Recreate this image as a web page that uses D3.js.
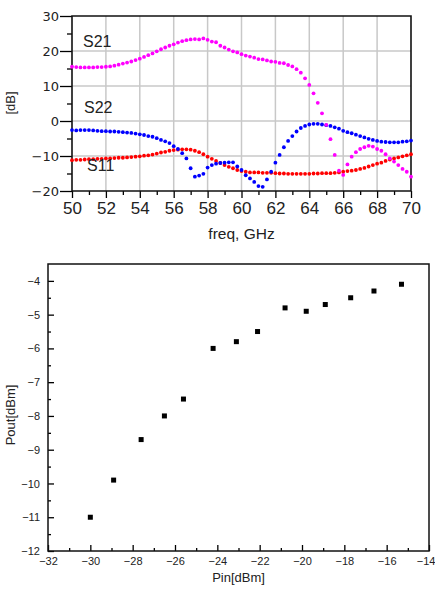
<!DOCTYPE html>
<html>
<head>
<meta charset="utf-8">
<script src="https://cdn.jsdelivr.net/npm/d3@7"></script>
<style>body { margin: 0; background: #fff; }</style>
</head>
<body>
<svg></svg>
<script>
const [svgWidth, svgHeight] = [435, 591];

// S-parameter sweep, one sample every 0.25 GHz from 50 to 70 GHz
const freq = d3.range(0, 81).map(i => 50 + i * 0.25);
const s21 = [15.5, 15.4, 15.3, 15.3, 15.3, 15.3, 15.4, 15.4, 15.5, 15.6,
  15.8, 16.1, 16.4, 16.7, 17.0, 17.4, 17.8, 18.3, 18.8, 19.3,
  19.9, 20.5, 21.0, 21.5, 21.9, 22.4, 22.8, 23.1, 23.3, 23.4,
  23.3, 23.6, 23.2, 22.7, 22.5, 21.5, 21.0, 20.4, 19.9, 19.6,
  19.1, 18.7, 18.4, 18.1, 17.7, 17.6, 17.3, 17.0, 16.9, 16.6,
  16.5, 16.0, 15.6, 14.8, 13.8, 12.2, 10.3, 7.9, 5.2, 2.2,
  -1.1, -5.2, -9.7, -14.2, -15.4, -12.4, -10.2, -8.9, -8.0, -7.5,
  -7.1, -7.3, -8.0, -8.5, -9.5, -10.7, -11.6, -12.6, -13.7, -14.5,
  -15.9];
const s22 = [-2.6, -2.7, -2.6, -2.6, -2.6, -2.7, -2.8, -2.9, -2.9, -3.0,
  -3.0, -3.1, -3.2, -3.3, -3.4, -3.6, -3.8, -4.0, -4.3, -4.5,
  -4.9, -5.4, -5.8, -6.3, -7.2, -8.0, -9.2, -10.7, -13.5, -15.9,
  -15.6, -15.1, -13.3, -12.6, -12.2, -12.0, -11.9, -11.8, -11.8, -13.0,
  -14.0, -15.5, -16.4, -17.4, -18.6, -18.8, -16.7, -14.5, -11.9, -9.7,
  -7.5, -5.7, -4.3, -3.0, -2.0, -1.4, -1.0, -0.8, -0.8, -1.0,
  -1.2, -1.4, -1.8, -2.2, -2.8, -3.2, -3.5, -3.9, -4.3, -4.7,
  -5.1, -5.4, -5.7, -5.9, -6.0, -6.1, -6.1, -6.1, -5.9, -5.8,
  -5.6];
const s11 = [-11.2, -11.1, -11.1, -11.0, -10.9, -10.9, -10.8, -10.8, -10.7, -10.7,
  -10.6, -10.5, -10.5, -10.4, -10.3, -10.2, -10.1, -9.9, -9.8, -9.6,
  -9.3, -9.0, -8.8, -8.5, -8.3, -8.2, -8.1, -8.1, -8.2, -8.5,
  -8.9, -9.5, -10.2, -10.8, -11.4, -12.0, -12.6, -13.1, -13.5, -14.0,
  -14.3, -14.5, -14.7, -14.7, -14.7, -14.8, -14.8, -14.8, -14.9, -15.0,
  -15.0, -15.1, -15.1, -15.1, -15.1, -15.1, -15.1, -15.0, -15.0, -14.9,
  -14.9, -14.9, -14.8, -14.7, -14.5, -14.3, -14.2, -14.0, -13.7, -13.4,
  -13.0, -12.6, -12.2, -11.9, -11.4, -11.0, -10.7, -10.4, -10.1, -9.8,
  -9.5];
const sNames = ['S11', 'S22', 'S21'];
const sColors = ['#ff0000', '#0000ff', '#ff00ff'];
const freqTicks = [50, 52, 54, 56, 58, 60, 62, 64, 66, 68, 70];
const dbTicks = [-20, -10, 0, 10, 20, 30];

// power sweep
const pin = [-30.0, -28.9, -27.6, -26.5, -25.6, -24.2, -23.1, -22.1, -20.8, -19.8, -18.9, -17.7, -16.6, -15.3];
const pout = [-11.0, -9.9, -8.7, -8.0, -7.5, -6.0, -5.8, -5.5, -4.8, -4.9, -4.7, -4.5, -4.3, -4.1];
const pinTicks = [-32, -30, -28, -26, -24, -22, -20, -18, -16, -14];
const poutTicks = [-12, -11, -10, -9, -8, -7, -6, -5, -4];

const svg = d3.select('svg')
  .attr('width', svgWidth)
  .attr('height', svgHeight);

// ---------- top chart ----------
const sBox = { left: 72, right: 411, top: 16, bottom: 191 };
const xS = d3.scaleLinear().domain([50, 70]).range([sBox.left, sBox.right]);
const yS = d3.scaleLinear().domain([-20, 30]).range([sBox.bottom, sBox.top]);
const g1 = svg.append('g');

g1.append('g')
  .selectAll('line')
  .data(freqTicks.slice(1, -1))
  .join('line')
  .attr('x1', d => xS(d)).attr('x2', d => xS(d))
  .attr('y1', sBox.top).attr('y2', sBox.bottom)
  .attr('stroke', '#c8c8c8').attr('stroke-width', 1.5);
g1.append('g')
  .selectAll('line')
  .data(dbTicks.slice(1, -1))
  .join('line')
  .attr('x1', sBox.left).attr('x2', sBox.right)
  .attr('y1', d => yS(d)).attr('y2', d => yS(d))
  .attr('stroke', '#c8c8c8').attr('stroke-width', 1.5);

const styleAxis = (sel, font, size) => {
  sel.select('.domain').remove();
  sel.attr('font-family', font).attr('font-size', size);
  sel.selectAll('line').attr('stroke', '#000').attr('stroke-width', 1.3);
  sel.selectAll('text').attr('fill', '#222');
};

g1.append('g')
  .attr('transform', `translate(${sBox.left},0)`)
  .call(d3.axisLeft(yS).tickValues(dbTicks).tickSize(12).tickPadding(1))
  .call(styleAxis, '"DejaVu Sans", sans-serif', 13);
g1.append('g')
  .attr('transform', `translate(${sBox.left},0)`)
  .call(d3.axisLeft(yS).tickValues([-15, -5, 5, 15, 25]).tickSize(5).tickFormat(''))
  .call(styleAxis, 'sans-serif', 10);
g1.append('g')
  .attr('transform', `translate(0,${sBox.bottom})`)
  .call(d3.axisBottom(xS).tickValues(freqTicks).tickSize(7).tickPadding(4))
  .call(styleAxis, '"Liberation Sans", Arial, sans-serif', 17);
g1.append('g')
  .attr('transform', `translate(0,${sBox.bottom})`)
  .call(d3.axisBottom(xS).tickValues(d3.range(51, 70, 2)).tickSize(4).tickFormat(''))
  .call(styleAxis, 'sans-serif', 10);

g1.append('path')
  .attr('d', `M${sBox.left},${sBox.bottom}V${sBox.top}H${sBox.right}V${sBox.bottom}H${sBox.left}`)
  .attr('fill', 'none').attr('stroke', '#111').attr('stroke-width', 1.6);

[s11, s22, s21].forEach((vals, k) => {
  g1.append('g')
    .selectAll('circle')
    .data(vals.map((v, i) => [freq[i], v]))
    .join('circle')
    .attr('cx', d => xS(d[0]))
    .attr('cy', d => yS(d[1]))
    .attr('r', 1.9)
    .attr('fill', sColors[k]);
});

const sLabelPos = [[87, 171], [84, 113], [83, 47]];
g1.append('g')
  .selectAll('text')
  .data(sNames)
  .join('text')
  .attr('x', (d, i) => sLabelPos[i][0])
  .attr('y', (d, i) => sLabelPos[i][1])
  .attr('font-family', '"Liberation Sans", Arial, sans-serif')
  .attr('font-size', 16)
  .attr('fill', '#222')
  .text(d => d);

g1.append('text')
  .attr('x', (sBox.left + sBox.right) / 2)
  .attr('y', 239)
  .attr('text-anchor', 'middle')
  .attr('font-family', '"Liberation Sans", Arial, sans-serif')
  .attr('font-size', 15.5)
  .attr('fill', '#222')
  .text('freq, GHz');
g1.append('text')
  .attr('transform', 'translate(15,103) rotate(-90)')
  .attr('text-anchor', 'middle')
  .attr('font-family', '"Liberation Sans", Arial, sans-serif')
  .attr('font-size', 13)
  .attr('fill', '#222')
  .text('[dB]');

// ---------- bottom chart ----------
const pBox = { left: 48, right: 429, top: 264, bottom: 551 };
const xP = d3.scaleLinear().domain([-32, -14]).range([pBox.left, pBox.right]);
const yP = d3.scaleLinear().domain([-12, -3.5]).range([pBox.bottom, pBox.top]);
const g2 = svg.append('g');

g2.append('g')
  .attr('transform', `translate(${pBox.left},0)`)
  .call(d3.axisLeft(yP).tickValues(poutTicks).tickSize(-6).tickPadding(8))
  .call(styleAxis, '"Liberation Sans", Arial, sans-serif', 11);
g2.append('g')
  .attr('transform', `translate(${pBox.left},0)`)
  .call(d3.axisLeft(yP).tickValues(d3.range(-11.5, -3.5, 1)).tickSize(-3).tickFormat(''))
  .call(styleAxis, 'sans-serif', 10);
const pinAxis = g2.append('g')
  .attr('transform', `translate(0,${pBox.bottom})`)
  .call(d3.axisBottom(xP).tickValues(pinTicks).tickSize(-6).tickPadding(6))
  .call(styleAxis, '"Liberation Sans", Arial, sans-serif', 11);
// keep the last label inside the window edge
pinAxis.selectAll('text')
  .filter(d => d === -14)
  .attr('text-anchor', 'end')
  .attr('dx', 6);
g2.append('g')
  .attr('transform', `translate(0,${pBox.bottom})`)
  .call(d3.axisBottom(xP).tickValues(d3.range(-31, -14, 2)).tickSize(-3).tickFormat(''))
  .call(styleAxis, 'sans-serif', 10);

g2.append('rect')
  .attr('x', pBox.left).attr('y', pBox.top)
  .attr('width', pBox.right - pBox.left).attr('height', pBox.bottom - pBox.top)
  .attr('fill', 'none').attr('stroke', '#111').attr('stroke-width', 1.5);

const sq = 5;
g2.append('g')
  .selectAll('rect')
  .data(pin.map((p, i) => [p, pout[i]]))
  .join('rect')
  .attr('x', d => xP(d[0]) - sq / 2)
  .attr('y', d => yP(d[1]) - sq / 2)
  .attr('width', sq).attr('height', sq)
  .attr('fill', '#000');

g2.append('text')
  .attr('x', (pBox.left + pBox.right) / 2)
  .attr('y', 582)
  .attr('text-anchor', 'middle')
  .attr('font-family', '"Liberation Sans", Arial, sans-serif')
  .attr('font-size', 13)
  .attr('fill', '#222')
  .text('Pin[dBm]');
g2.append('text')
  .attr('transform', 'translate(15,415) rotate(-90)')
  .attr('text-anchor', 'middle')
  .attr('font-family', '"Liberation Sans", Arial, sans-serif')
  .attr('font-size', 13)
  .attr('fill', '#222')
  .text('Pout[dBm]');
</script>
</body>
</html>
